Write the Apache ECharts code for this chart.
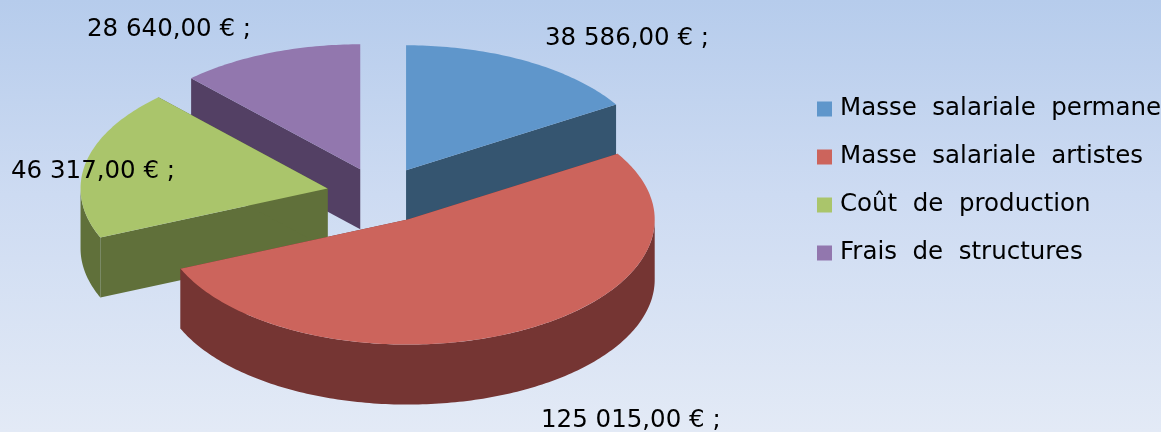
<!DOCTYPE html>
<html>
<head>
<meta charset="utf-8">
<style>
  html, body { margin: 0; padding: 0; overflow: hidden; }
  #chart { width: 1161px; height: 432px; }
</style>
<script src="https://cdn.jsdelivr.net/npm/echarts@6/dist/echarts.min.js"></script>
</head>
<body>
<div id="chart"></div>
<script>
const categories = ['Masse salariale permane', 'Masse salariale artistes', 'Coût de production', 'Frais de structures']
const amounts = [38586, 125015, 46317, 28640]

const topColors = ['#5f96cb', '#cc645c', '#aac56b', '#9277ae']
const sideColors = ['#355570', '#753533', '#60703a', '#534064']
const labelPos = [[545, 37], [541, 419], [11, 170], [87, 28]]
// small hand tuning of the exploded slices
const nudge = [[0, 0], [3, 1.5], [0, 0], [0, 0.5]]

// tilted pie geometry, echarts has no 3d pie without gl
const center = [380, 194]
const rx = 247
const ry = 125
const depth = 60
const explode = 0.217

const total = amounts.reduce((a, b) => a + b, 0)

function formatAmount(v) {
  const s = String(v)
  return s.slice(0, -3) + ' ' + s.slice(-3) + ',00 € ;'
}

function sliceAngles(index) {
  let start = 0
  for (let i = 0; i < index; i++) {
    start += amounts[i] / total * Math.PI * 2
  }
  return [start, start + amounts[index] / total * Math.PI * 2]
}

function renderSlice(index, api) {
  const value = api.value(0)
  const [a0, a1] = sliceAngles(index)
  const mid = (a0 + a1) / 2
  const cx = center[0] + explode * rx * Math.sin(mid) + nudge[index][0]
  const cy = center[1] - explode * ry * Math.cos(mid) + nudge[index][1]
  const rim = (a) => [cx + rx * Math.sin(a), cy - ry * Math.cos(a)]
  const down = (p) => [p[0], p[1] + depth]
  const arc = (from, to) => {
    const pts = []
    const n = Math.max(2, Math.ceil((to - from) * 60))
    for (let i = 0; i <= n; i++) {
      pts.push(rim(from + (to - from) * i / n))
    }
    return pts
  }
  const z = Math.round(cy)
  const side = { fill: sideColors[index] }
  const apex = [cx, cy]
  const children = []

  // the two cut faces
  ;[a0, a1].forEach((a) => {
    const p = rim(a)
    children.push({
      type: 'polygon',
      z2: z,
      shape: { points: [apex, p, down(p), down(apex)] },
      style: side
    })
  })

  // outer wall, only the front half can be seen
  const w0 = Math.max(a0, Math.PI / 2)
  const w1 = Math.min(a1, Math.PI * 1.5)
  if (w1 > w0) {
    const top = arc(w0, w1)
    children.push({
      type: 'polygon',
      z2: z,
      shape: { points: top.concat(top.map(down).reverse()) },
      style: side
    })
  }

  children.push({
    type: 'polygon',
    z2: z + 1,
    shape: { points: [apex].concat(arc(a0, a1)) },
    style: { fill: topColors[index] }
  })

  children.push({
    type: 'text',
    z2: 1000,
    x: labelPos[index][0],
    y: labelPos[index][1] + 2,
    style: {
      text: formatAmount(value),
      fill: '#000',
      font: '24.5px "DejaVu Sans"',
      verticalAlign: 'middle'
    }
  })

  return { type: 'group', children }
}

const chart = echarts.init(document.getElementById('chart'))

chart.setOption({
  animation: false,
  backgroundColor: new echarts.graphic.LinearGradient(0, 0, 0, 1, [
    { offset: 0, color: '#b6ccec' },
    { offset: 0.45, color: '#cddbf2' },
    { offset: 1, color: '#e3eaf6' }
  ]),
  legend: {
    orient: 'vertical',
    left: 817,
    top: 94,
    padding: 0,
    itemWidth: 15,
    itemHeight: 15,
    itemGap: 18,
    icon: 'rect',
    data: categories,
    selectedMode: false,
    formatter: (name) => name.replace(/ /g, '  '),
    textStyle: {
      color: '#000',
      fontFamily: 'DejaVu Sans',
      fontSize: 24.5,
      lineHeight: 30,
      padding: [0, 0, 0, 3]
    }
  },
  series: categories.map((name, i) => ({
    type: 'custom',
    name,
    coordinateSystem: 'none',
    itemStyle: { color: topColors[i] },
    data: [[amounts[i]]],
    renderItem: (params, api) => renderSlice(i, api)
  }))
})
</script>
</body>
</html>
